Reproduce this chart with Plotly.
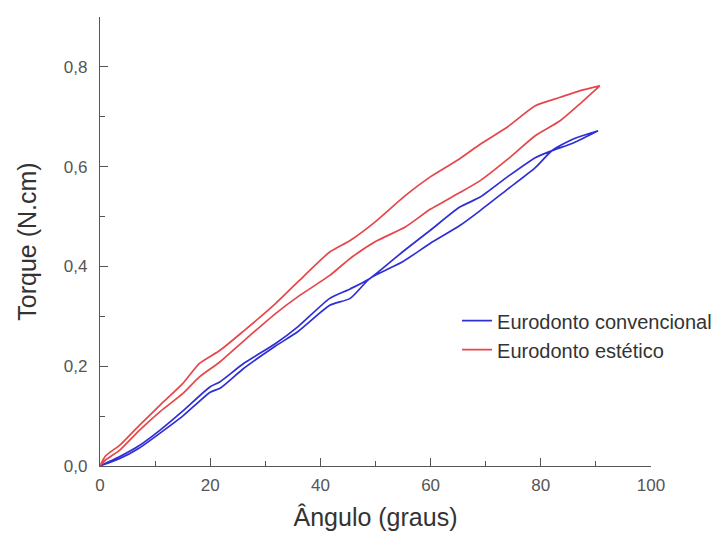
import plotly.graph_objects as go

# Eurodonto estético (red) - upper branch and lower branch
red_x = [0, 1, 3.6, 7, 10.9, 15, 18.1, 21.8, 26, 31.8, 36, 41.7, 45.4, 50, 55.4, 60, 65.3, 69, 74, 79, 83.5, 87, 90.7]
red_up = [0, 0.02, 0.042, 0.08, 0.122, 0.165, 0.206, 0.232, 0.27, 0.325, 0.37, 0.429, 0.452, 0.49, 0.542, 0.58, 0.616, 0.645, 0.68, 0.722, 0.739, 0.752, 0.762]
red_lo = [0, 0.012, 0.032, 0.07, 0.109, 0.145, 0.179, 0.209, 0.25, 0.305, 0.34, 0.382, 0.416, 0.45, 0.479, 0.515, 0.548, 0.572, 0.615, 0.662, 0.692, 0.725, 0.762]

# Eurodonto convencional (blue)
blue_x = [0, 3.6, 7, 10.9, 15, 20, 21.8, 26, 31.8, 36, 41.7, 45.4, 49, 55, 59.9, 65.3, 69, 74, 79, 82, 86, 90.4]
blue_up = [0, 0.019, 0.04, 0.072, 0.11, 0.159, 0.169, 0.205, 0.245, 0.28, 0.336, 0.355, 0.376, 0.43, 0.472, 0.519, 0.539, 0.58, 0.618, 0.632, 0.648, 0.672]
blue_lo = [0, 0.015, 0.035, 0.066, 0.1, 0.148, 0.156, 0.195, 0.24, 0.27, 0.322, 0.336, 0.376, 0.41, 0.446, 0.482, 0.512, 0.555, 0.598, 0.632, 0.656, 0.672]

BLUE = "#2f2fd6"
RED = "#e5474a"
FONT = "Liberation Sans, Arial"

fig = go.Figure()
fig.add_trace(go.Scatter(
    x=blue_x + blue_x[::-1], y=blue_up + blue_lo[::-1], mode="lines",
    line=dict(color=BLUE, width=1.7, shape="spline", smoothing=0.6), name="Eurodonto convencional"))
fig.add_trace(go.Scatter(
    x=red_x + red_x[::-1], y=red_up + red_lo[::-1], mode="lines",
    line=dict(color=RED, width=1.7, shape="spline", smoothing=0.6), name="Eurodonto estético"))

axis_common = dict(
    showline=True, linecolor="#555", linewidth=1.4, showgrid=False, zeroline=False,
    ticks="inside", ticklen=8, tickwidth=1.3, tickcolor="#555",
    tickfont=dict(family=FONT, size=17, color="#555"),
    mirror=False,
)
fig.update_xaxes(range=[0, 100], dtick=20, tick0=0, ticklabelstandoff=3,
                 minor=dict(ticks="inside", ticklen=5, dtick=10, tickcolor="#555", tickwidth=1.3),
                 title=dict(text="Ângulo (graus)", font=dict(family=FONT, size=25, color="#333"), standoff=14),
                 **axis_common)
fig.update_yaxes(range=[0, 0.9], dtick=0.2, tick0=0, tickformat=".1f", ticklabelstandoff=8,
                 minor=dict(ticks="inside", ticklen=5, dtick=0.1, tickcolor="#555", tickwidth=1.3),
                 title=dict(text="Torque (N.cm)", font=dict(family=FONT, size=25, color="#333"), standoff=20),
                 **axis_common)

fig.update_layout(
    width=724, height=535,
    margin=dict(l=92, r=81, t=9, b=77),
    paper_bgcolor="white", plot_bgcolor="white",
    separators=",.",
    showlegend=True,
    legend=dict(x=0.648, y=0.367, xanchor="left", yanchor="top",
                bgcolor="rgba(0,0,0,0)",
                font=dict(family=FONT, size=20, color="#333"),
                tracegroupgap=0),
)

fig.write_html("out.html")
